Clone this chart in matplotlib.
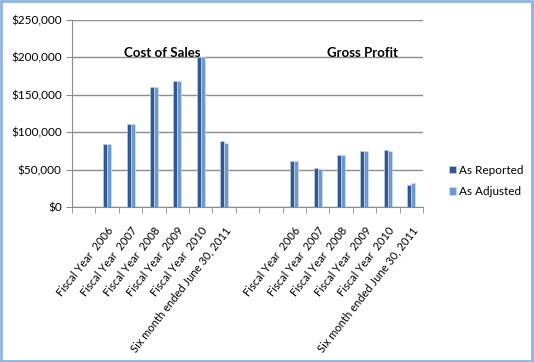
import matplotlib
matplotlib.use('Agg')
import matplotlib.pyplot as plt
import numpy as np
from matplotlib.patches import Rectangle
from matplotlib.ticker import FuncFormatter

plt.rcParams['font.family'] = ['Lato', 'DejaVu Sans']

# 数据
periods = ['Fiscal Year  2006', 'Fiscal Year  2007', 'Fiscal Year  2008',
           'Fiscal Year  2009', 'Fiscal Year  2010', 'Six month ended June 30, 2011']
cost_reported = [84000, 110500, 159500, 168500, 199500, 88500]
cost_adjusted = [84000, 110500, 159500, 168500, 199500, 86000]
gp_reported = [62000, 51500, 69000, 75000, 75500, 29500]
gp_adjusted = [62000, 51000, 69000, 75000, 74500, 32000]

# 类别：空位 + 成本 + 两个空位 + 毛利
labels = [''] + periods + ['', ''] + periods
reported = [0] + cost_reported + [0, 0] + gp_reported
adjusted = [0] + cost_adjusted + [0, 0] + gp_adjusted

fig = plt.figure(figsize=(5.34, 3.62), dpi=100)
ax = fig.add_axes([0.135, 0.428, 0.657, 0.518])

x = np.arange(len(labels))
w = 0.17
c_rep = '#2F5A8F'
c_adj = '#6F97D2'
ax.bar(x - w / 2, reported, w, color=c_rep, edgecolor='#C9D6E8', linewidth=0.4, label='As Reported', zorder=3)
ax.bar(x + w / 2, adjusted, w, color=c_adj, edgecolor='#DDE6F2', linewidth=0.4, label='As Adjusted', zorder=3)

ax.set_xlim(-0.5, len(labels) - 0.5)
ax.set_ylim(0, 250000)
ax.set_yticks(np.arange(0, 250001, 50000))
ax.yaxis.set_major_formatter(FuncFormatter(lambda v, p: '${:,.0f}'.format(v)))
ax.grid(axis='y', color='#8C8C8C', linewidth=1.0, zorder=0)
ax.set_axisbelow(True)

ax.set_xticks(x)
ax.set_xticklabels(labels, rotation=52, ha='right', rotation_mode='anchor', fontsize=8)
ax.tick_params(axis='x', length=0, pad=13)
ax.set_xticks(np.arange(-0.5, len(labels), 1), minor=True)
ax.tick_params(axis='x', which='minor', length=4, color='#8C8C8C')
ax.tick_params(axis='y', labelsize=8.5, length=4, colors='#8C8C8C', labelcolor='black')

for s in ['top', 'right']:
    ax.spines[s].set_visible(False)
for s in ['left', 'bottom']:
    ax.spines[s].set_color('#8C8C8C')

# 小标题
ax.text(3.35, 206000, 'Cost of Sales', ha='center', va='center', fontsize=9.5, fontweight='bold')
ax.text(11.9, 206000, 'Gross Profit', ha='center', va='center', fontsize=9.5, fontweight='bold')

fig.legend(loc='center left', bbox_to_anchor=(0.82, 0.5), frameon=False, fontsize=8.5,
           handlelength=0.6, handleheight=0.6, handletextpad=0.3, labelspacing=0.9)

# 外框
fig.patches.append(Rectangle((0.002, 0.003), 0.995, 0.993, transform=fig.transFigure,
                             fill=False, edgecolor='#8DB3E2', linewidth=2))

fig.savefig('out.png', dpi=100)
